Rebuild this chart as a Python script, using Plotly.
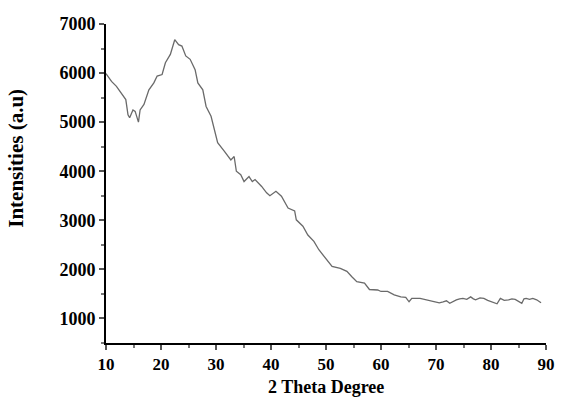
import plotly.graph_objects as go

two_theta = [10.0, 11.0, 11.9, 12.5, 13.1, 13.6, 14.0, 14.3, 14.9, 15.3, 15.9, 16.2, 16.9, 17.8, 18.7,
             19.3, 20.2, 20.8, 21.7, 22.5, 23.2, 23.8, 24.5, 25.3, 26.2, 26.7, 27.6, 28.2, 29.1, 29.7,
             30.3, 31.5, 32.7, 33.3, 33.7, 34.5, 35.1, 36.0, 36.6, 37.1, 38.3, 39.2, 39.8, 40.9, 41.9,
             43.1, 44.3, 44.6, 45.8, 46.7, 47.8, 48.7, 49.9, 51.1, 52.6, 53.8, 54.7, 55.6, 57.0, 57.9,
             59.4, 60.0, 61.2, 62.4, 63.6, 64.5, 65.1, 65.6, 67.1, 68.3, 69.2, 69.8, 70.6, 71.3, 71.9,
             72.5, 73.1, 73.7, 74.3, 74.9, 75.6, 76.3, 76.8, 77.2, 78.0, 78.7, 79.4, 80.2, 81.1, 81.7,
             82.4, 83.2, 83.8, 84.4, 85.0, 85.6, 86.0, 86.4, 87.0, 87.6, 88.3, 89.1]
intensity = [5990, 5830, 5730, 5630, 5530, 5460, 5150, 5090, 5250, 5220, 5000, 5250, 5360, 5660, 5800,
             5940, 5970, 6210, 6380, 6680, 6580, 6550, 6350, 6280, 6070, 5800, 5660, 5320, 5120, 4850,
             4580, 4410, 4230, 4300, 4000, 3930, 3790, 3890, 3790, 3830, 3690, 3560, 3500, 3590, 3490,
             3250, 3190, 3010, 2880, 2700, 2570, 2400, 2220, 2060, 2020, 1960, 1850, 1750, 1720, 1590,
             1580, 1550, 1550, 1480, 1440, 1430, 1340, 1410, 1410, 1380, 1360, 1340, 1320, 1340, 1360,
             1310, 1350, 1380, 1400, 1410, 1390, 1440, 1400, 1380, 1420, 1410, 1370, 1340, 1300, 1410,
             1370, 1380, 1400, 1390, 1350, 1310, 1400, 1410, 1390, 1410, 1380, 1320]

x_ticks = [10, 20, 30, 40, 50, 60, 70, 80, 90]
y_ticks = [1000, 2000, 3000, 4000, 5000, 6000, 7000]

font_family = "Liberation Serif, Times New Roman, serif"

fig = go.Figure()
fig.add_trace(go.Scatter(x=two_theta, y=intensity, mode="lines",
                         line=dict(color="#6a6a6a", width=1.3), showlegend=False))

fig.update_layout(
    width=561, height=397,
    margin=dict(l=106, r=6, t=24, b=54),
    paper_bgcolor="white", plot_bgcolor="white",
    font=dict(family=font_family, color="black"),
    annotations=[
        dict(text="<b>2 Theta Degree</b>", xref="paper", yref="paper", x=0.5, y=-0.139,
             xanchor="center", yanchor="middle", showarrow=False,
             font=dict(family=font_family, size=18, color="black")),
        dict(text="<b>Intensities (a.u)</b>", xref="paper", yref="paper", x=-0.205, y=0.58,
             xanchor="center", yanchor="middle", showarrow=False, textangle=-90,
             font=dict(family=font_family, size=21, color="black")),
    ],
)

fig.update_xaxes(
    range=[10, 90], tickvals=x_ticks, ticktext=[f"<b>{v}</b>" for v in x_ticks],
    showline=True, linecolor="black", linewidth=2, showgrid=False, zeroline=False,
    ticks="outside", ticklen=5, tickwidth=1.5, tickcolor="#555", ticklabeloverflow="allow",
    tickfont=dict(family=font_family, size=17, color="black"),
    minor=dict(ticks="outside", dtick=5, tick0=10, ticklen=3, tickwidth=1.5, tickcolor="#777", showgrid=False),
)
fig.update_yaxes(
    range=[500, 7000], tickvals=y_ticks, ticktext=[f"<b>{v}</b>" for v in y_ticks],
    showline=True, linecolor="black", linewidth=2, showgrid=False, zeroline=False,
    ticks="outside", ticklen=5, tickwidth=1.5, tickcolor="#555", ticklabeloverflow="allow",
    tickfont=dict(family=font_family, size=18, color="black"),
    minor=dict(ticks="outside", dtick=500, tick0=500, ticklen=3, tickwidth=1.5, tickcolor="#777", showgrid=False),
)

fig.write_html("out.html")
